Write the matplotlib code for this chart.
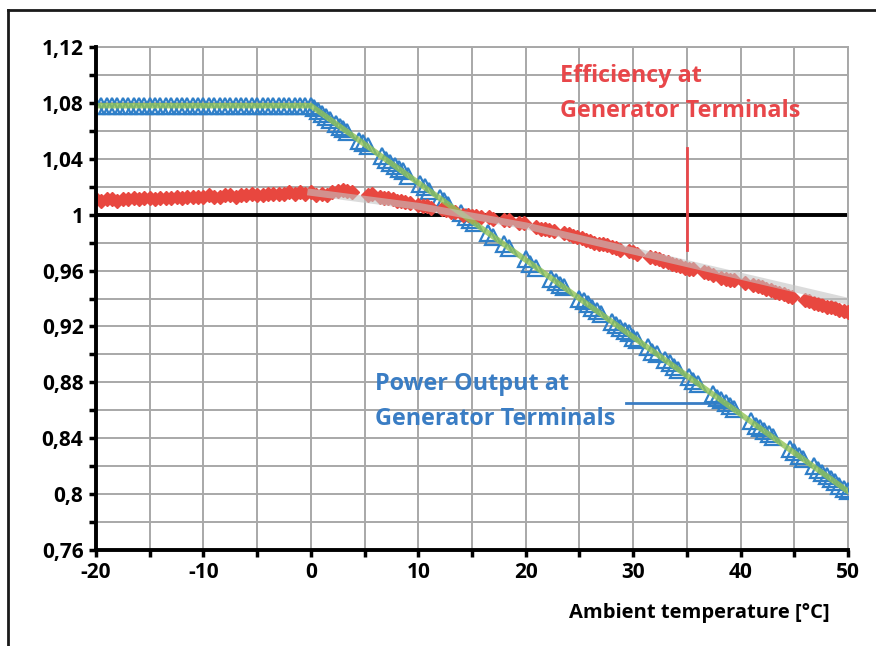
import matplotlib
matplotlib.use("Agg")
import matplotlib.pyplot as plt
from matplotlib.lines import Line2D
from matplotlib.ticker import MultipleLocator, FuncFormatter

# power output at generator terminals (blue triangles)
pow_t = [-20, -19.5, -19, -18.5, -18, -17.5, -17, -16.5, -16, -15.5, -15, -14.5, -14, -13.5,
         -13, -12.5, -12, -11.5, -11, -10.5, -10, -9.5, -9, -8.5, -8, -7.5, -7, -6.5, -6,
         -5.5, -5, -4.5, -4, -3.5, -3, -2.5, -2, -1.5, -1, -0.5, 0,
         0.3, 0.7, 1.0, 1.4, 1.8, 2.3, 2.7, 3.0, 3.4, 4.5, 4.9, 5.3, 6.6, 7.0, 7.4, 7.8, 8.2,
         8.6, 9.0, 10.2, 10.6, 11.0, 12.0, 12.4, 12.8, 14.0, 14.4, 14.8, 15.2, 16.5, 17.0,
         18.0, 18.4, 20.0, 20.4, 21.0, 22.4, 22.8, 23.2, 23.6, 25.0, 25.4, 25.8, 26.2, 26.6,
         27.0, 28.0, 28.4, 28.8, 29.2, 29.6, 30.0, 30.4, 31.4, 31.8, 32.2, 33.0, 33.4, 33.8,
         34.2, 35.2, 35.6, 36.0, 37.4, 37.8, 38.2, 38.6, 39.0, 39.4, 41.0, 41.4, 41.8, 42.2,
         42.6, 43.0, 44.6, 45.0, 45.4, 45.8, 46.8, 47.2, 47.6, 48.0, 48.4, 48.8, 49.2, 49.6, 50.0]
pow_v = [1.078] * 41 + [
         1.076, 1.074, 1.072, 1.070, 1.068, 1.065, 1.063, 1.061, 1.059, 1.053, 1.051, 1.049,
         1.042, 1.039, 1.037, 1.035, 1.033, 1.031, 1.028, 1.022, 1.020, 1.017, 1.012, 1.010,
         1.007, 1.001, 0.998, 0.996, 0.994, 0.987, 0.984, 0.979, 0.976, 0.968, 0.965, 0.962,
         0.954, 0.952, 0.950, 0.948, 0.940, 0.938, 0.936, 0.933, 0.931, 0.929, 0.923, 0.921,
         0.919, 0.917, 0.915, 0.912, 0.910, 0.905, 0.902, 0.900, 0.896, 0.894, 0.891, 0.889,
         0.884, 0.881, 0.879, 0.872, 0.869, 0.867, 0.865, 0.863, 0.861, 0.852, 0.849, 0.847,
         0.845, 0.843, 0.841, 0.832, 0.830, 0.827, 0.825, 0.820, 0.817, 0.815, 0.813, 0.811,
         0.809, 0.806, 0.804, 0.802]

# efficiency at generator terminals (red diamonds)
eff_t = [-20, -19.5, -19, -18.5, -18, -17.5, -17, -16.5, -16, -15.5, -15, -14.5, -14, -13.5,
         -13, -12.5, -12, -11.5, -11, -10.5, -10, -9.5, -9, -8.5, -8, -7.5, -7, -6.5, -6,
         -5.5, -5, -4.5, -4, -3.5, -3, -2.5, -2, -1.5, -1, -0.5, 0,
         0.5, 1.0, 1.5, 2.0, 2.5, 3.0, 3.4, 3.8, 5.3, 5.7, 6.4, 6.8, 7.2, 7.6, 8.0, 8.4, 8.8,
         9.2, 10.0, 10.4, 10.8, 11.2, 12.2, 12.6, 13.0, 13.4, 14.2, 14.6, 15.0, 15.4, 15.8,
         16.6, 17.0, 18.0, 18.4, 19.4, 19.8, 21.0, 21.4, 21.8, 22.2, 22.6, 23.6, 24.0, 24.4,
         24.8, 25.2, 25.6, 26.0, 26.4, 26.8, 27.2, 27.6, 28.0, 28.4, 28.8, 29.6, 30.0, 30.4,
         31.6, 32.0, 32.4, 32.8, 33.2, 33.6, 34.0, 34.4, 34.8, 35.2, 35.6, 36.6, 37.0, 37.4,
         38.2, 38.6, 39.0, 39.4, 40.4, 41.2, 41.6, 42.0, 42.4, 42.8, 43.2, 43.6, 44.0, 44.4,
         44.8, 46.0, 46.4, 46.8, 47.2, 47.6, 48.0, 48.4, 48.8, 49.2, 49.6, 50.0]
eff_v = [1.011, 1.010, 1.011, 1.011, 1.010, 1.011, 1.011, 1.012, 1.011, 1.012, 1.012, 1.011,
         1.012, 1.012, 1.012, 1.013, 1.012, 1.013, 1.013, 1.013, 1.013, 1.014, 1.013, 1.013,
         1.014, 1.014, 1.013, 1.014, 1.014, 1.015, 1.014, 1.014, 1.015, 1.015, 1.015, 1.015,
         1.016, 1.015, 1.016, 1.015, 1.016,
         1.014, 1.015, 1.014, 1.016, 1.017, 1.018, 1.017, 1.016, 1.014, 1.015, 1.013, 1.012,
         1.012, 1.011, 1.010, 1.010, 1.009, 1.008, 1.007, 1.006, 1.006, 1.005, 1.004, 1.003,
         1.002, 1.002, 1.000, 1.000, 0.999, 0.999, 0.998, 0.998, 0.997, 0.996, 0.996, 0.994,
         0.994, 0.991, 0.990, 0.990, 0.989, 0.988, 0.987, 0.986, 0.985, 0.984, 0.983, 0.982,
         0.981, 0.980, 0.979, 0.979, 0.978, 0.977, 0.976, 0.975, 0.974, 0.973, 0.972, 0.970,
         0.969, 0.968, 0.967, 0.966, 0.965, 0.964, 0.963, 0.962, 0.961, 0.961, 0.959, 0.958,
         0.957, 0.955, 0.954, 0.953, 0.953, 0.951, 0.950, 0.949, 0.948, 0.947, 0.946, 0.945,
         0.944, 0.943, 0.942, 0.941, 0.939, 0.938, 0.937, 0.936, 0.935, 0.934, 0.934, 0.933,
         0.932, 0.931, 0.930]

# trend lines
pow_fit_t = [-20, 0, 50]
pow_fit_v = [1.078, 1.078, 0.802]
eff_fit_t = [0, 10, 20, 30, 40, 50]
eff_fit_v = [1.016, 1.006, 0.992, 0.974, 0.956, 0.938]

plt.rcParams["font.family"] = ["Open Sans", "DejaVu Sans"]
plt.rcParams["axes.unicode_minus"] = False

W, H = 876, 646
fig = plt.figure(figsize=(W / 100, H / 100), dpi=100)
ax = fig.add_axes([96 / W, 1 - 550 / H, (848 - 96) / W, (550 - 47) / H])

ax.plot(pow_t, pow_v, ls="none", marker="^", ms=11, mfc="none", mec="#2f7fc8", mew=1.6, zorder=3)
ax.plot(pow_fit_t, pow_fit_v, color="#93c455", lw=4, alpha=0.8, zorder=4)
ax.plot(eff_t, eff_v, ls="none", marker="D", ms=7.5, mfc="#e8473f", mec="#e8473f", zorder=3)
ax.plot(eff_fit_t, eff_fit_v, color="#c4c4c4", lw=5, alpha=0.6, zorder=4)
ax.axhline(1.0, color="black", lw=2.8, zorder=2)

ax.set_xlim(-20, 50)
ax.set_ylim(0.76, 1.12)
ax.xaxis.set_major_locator(MultipleLocator(10))
ax.xaxis.set_minor_locator(MultipleLocator(5))
ax.yaxis.set_major_locator(MultipleLocator(0.04))
ax.yaxis.set_minor_locator(MultipleLocator(0.02))
ax.yaxis.set_major_formatter(FuncFormatter(lambda v, p: ("%.2f" % v).rstrip("0").rstrip(".").replace(".", ",")))
ax.grid(which="both", color="#a8a8a8", lw=1.4, zorder=1)
ax.set_axisbelow(True)

for s in ["top", "right"]:
    ax.spines[s].set_color("#a8a8a8")
    ax.spines[s].set_linewidth(1.4)
for s in ["left", "bottom"]:
    ax.spines[s].set_color("black")
    ax.spines[s].set_linewidth(2.8)
    ax.spines[s].set_zorder(5)
ax.tick_params(which="both", direction="out", length=5, width=2.5, color="black")
ax.tick_params(which="major", labelsize=15, pad=4)
for lab in ax.get_xticklabels() + ax.get_yticklabels():
    lab.set_fontweight("bold")

fig.text(560 / W, 1 - 64 / H, "Efficiency at\nGenerator Terminals", color="#e8474a",
         fontsize=16.8, fontweight="bold", va="top", ha="left", linespacing=1.62)
ax.plot([35, 35], [1.048, 0.975], color="#e8474a", lw=2)
fig.text(375 / W, 1 - 372 / H, "Power Output at\nGenerator Terminals", color="#3a7dc4",
         fontsize=16.8, fontweight="bold", va="top", ha="left", linespacing=1.62)
ax.plot([29.3, 39.0], [0.865, 0.865], color="#3a7dc4", lw=2)

fig.text(830 / W, 1 - 613 / H, "Ambient temperature [°C]", ha="right", va="center",
         fontsize=14.5, fontweight="bold")

# outer frame
fig.add_artist(Line2D([8 / W, 1], [1 - 10 / H, 1 - 10 / H], color="#1a1a1a", lw=2))
fig.add_artist(Line2D([8 / W, 8 / W], [0, 1 - 10 / H], color="#1a1a1a", lw=2))

fig.savefig("out.png", dpi=100)
